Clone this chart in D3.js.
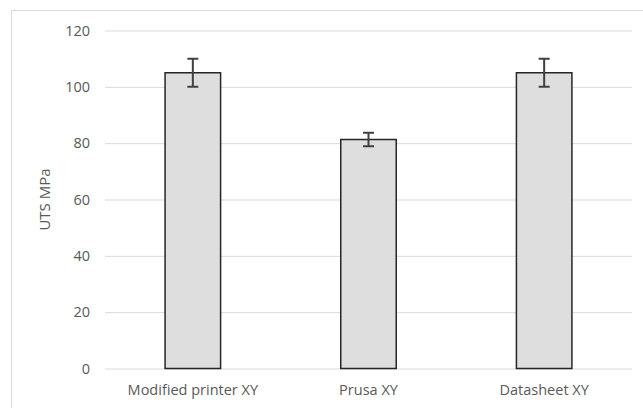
<!DOCTYPE html>
<meta charset="utf-8">
<style>
    body { margin: 0; background: #fff; }
    text {
        font-family: "Open Sans", "Liberation Sans", sans-serif;
        fill: #595959;
    }
    .grid line { stroke: #d9d9d9; stroke-width: 1px; }
    .grid path { stroke-width: 0; }
    .bar { fill: #dedede; stroke: #262626; stroke-width: 1.5px; }
    .err { stroke: #404040; stroke-width: 2px; fill: none; }
</style>
<body>
    <svg width="643" height="408"></svg>
</body>
<script src="https://d3js.org/d3.v7.min.js"></script>
<script>
    var categories = ["Modified printer XY", "Prusa XY", "Datasheet XY"];
    var values = [105, 81.3, 105];
    var errors = [5, 2.4, 5];
    var yTicks = [0, 20, 40, 60, 80, 100, 120];

    var svg = d3.select("svg");

    // outer chart frame
    svg.append("rect")
        .attr("x", 11.5).attr("y", 10.5)
        .attr("width", 660).attr("height", 420)
        .attr("fill", "none")
        .attr("stroke", "#d9d9d9");

    var plotLeft = 105, plotRight = 632, plotTop = 30.5, plotBottom = 368.5;

    var x = d3.scaleBand()
        .domain(categories)
        .range([plotLeft, plotRight])
        .paddingInner(0.684)
        .paddingOuter(0.342);

    var y = d3.scaleLinear()
        .domain([0, 120])
        .range([plotBottom, plotTop]);

    // gridlines
    svg.append("g")
        .attr("class", "grid")
        .attr("transform", "translate(" + plotLeft + ",0)")
        .call(d3.axisLeft(y).tickValues(yTicks).tickSize(-(plotRight - plotLeft)).tickFormat(""));

    // y tick labels
    svg.append("g").selectAll("text")
        .data(yTicks)
        .enter().append("text")
        .attr("x", 90)
        .attr("y", function (d) { return y(d); })
        .attr("dy", "0.35em")
        .style("text-anchor", "end")
        .style("font-size", "14.5px")
        .text(function (d) { return d; });

    // bars
    svg.append("g").selectAll("rect")
        .data(values)
        .enter().append("rect")
        .attr("class", "bar")
        .attr("x", function (d, i) { return x(categories[i]); })
        .attr("y", function (d) { return y(d); })
        .attr("width", x.bandwidth())
        .attr("height", function (d) { return y(0) - y(d); });

    // error bars
    svg.append("g").selectAll("path")
        .data(values)
        .enter().append("path")
        .attr("class", "err")
        .attr("d", function (d, i) {
            var cx = x(categories[i]) + x.bandwidth() / 2,
                y1 = y(d + errors[i]), y2 = y(d - errors[i]);
            return "M" + (cx - 5.5) + "," + y1 + "H" + (cx + 5.5)
                + "M" + cx + "," + y1 + "V" + y2
                + "M" + (cx - 5.5) + "," + y2 + "H" + (cx + 5.5);
        });

    // category labels
    svg.append("g").selectAll("text")
        .data(categories)
        .enter().append("text")
        .attr("x", function (d) { return x(d) + x.bandwidth() / 2; })
        .attr("y", 395)
        .style("text-anchor", "middle")
        .style("font-size", "14.5px")
        .text(function (d) { return d; });

    // y axis title
    svg.append("text")
        .attr("transform", "translate(50," + ((plotTop + plotBottom) / 2) + ") rotate(-90)")
        .style("text-anchor", "middle")
        .style("font-size", "15px")
        .text("UTS MPa");
</script>
